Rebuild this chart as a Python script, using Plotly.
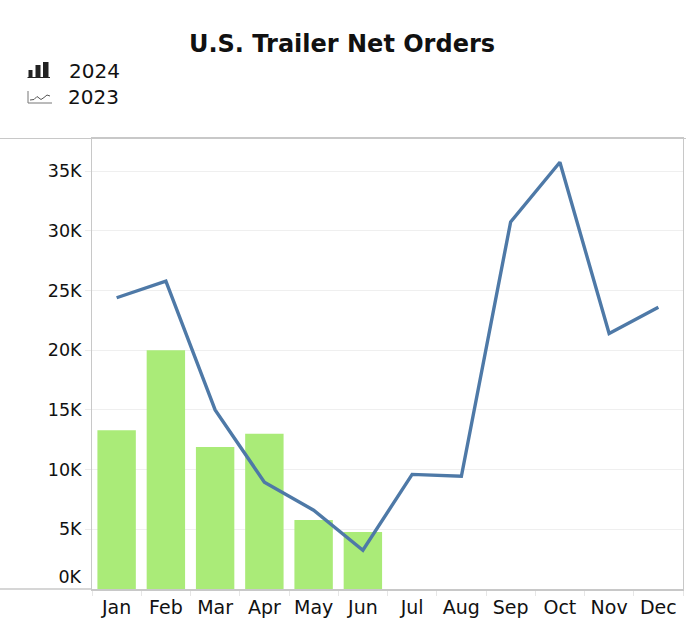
import plotly.graph_objects as go

months = ["Jan", "Feb", "Mar", "Apr", "May", "Jun", "Jul", "Aug", "Sep", "Oct", "Nov", "Dec"]
orders_2024 = [13300, 20000, 11900, 13000, 5780, 4770]
orders_2023 = [24400, 25800, 15000, 8950, 6600, 3250, 9600, 9450, 30750, 35750, 21400, 23600]
y_ticks = [5000, 10000, 15000, 20000, 25000, 30000, 35000]
y_tick_labels = ["5K", "10K", "15K", "20K", "25K", "30K", "35K"]
y_zero_tick = [0]
y_zero_label = ["0K"]

W, H = 686, 624
L, T = 92, 139
R = W - 683
B = H - 589
PW, PH = W - L - R, H - T - B

def px(x):
    return (x - L) / PW

def py(y):
    return (H - B - y) / PH

FRAME = "#c8c8c8"
FONT = "DejaVu Sans"
Y_RANGE = [0, 37700]

fig = go.Figure()
fig.add_trace(go.Bar(x=months[:len(orders_2024)], y=orders_2024, name="2024",
                     marker=dict(color="#aaeb78", line=dict(width=0))))
fig.add_trace(go.Scatter(x=months, y=orders_2023, name="2023", mode="lines", yaxis="y2",
                         line=dict(color="#4e79a7", width=3.4)))

shapes = []
shapes.append(dict(type="line", xref="paper", yref="paper", x0=px(0), x1=px(W), y0=py(138.5), y1=py(138.5),
                   line=dict(color=FRAME, width=1)))
shapes.append(dict(type="line", xref="paper", yref="paper", x0=px(0), x1=px(L), y0=py(589), y1=py(589),
                   line=dict(color=FRAME, width=1.5)))
IC = "#222222"
for x0, x1, top in [(28.5, 32.5, 70), (35.5, 40.5, 65), (43, 48.5, 62)]:
    shapes.append(dict(type="rect", xref="paper", yref="paper", x0=px(x0), x1=px(x1), y0=py(77), y1=py(top),
                       fillcolor=IC, line=dict(width=0)))
shapes.append(dict(type="line", xref="paper", yref="paper", x0=px(27.5), x1=px(50), y0=py(77.5), y1=py(77.5),
                   line=dict(color=IC, width=1)))
shapes.append(dict(type="path", xref="paper", yref="paper",
                   path="M {} {} L {} {} L {} {}".format(px(28), py(91), px(28), py(103), px(52), py(103)),
                   line=dict(color="#777777", width=1)))
pts = [(30, 100), (34, 99.5), (37, 96.5), (41, 99.5), (44, 97.5), (47, 95), (50, 96)]
path = "M " + " L ".join("{} {}".format(px(a), py(b)) for a, b in pts)
shapes.append(dict(type="path", xref="paper", yref="paper", path=path, line=dict(color="#555555", width=1)))

annotations = [
    dict(text="2024", xref="paper", yref="paper", x=px(67), y=py(71), xanchor="left", yanchor="middle",
         showarrow=False, font=dict(family=FONT, size=20, color="#111111")),
    dict(text="2023", xref="paper", yref="paper", x=px(66), y=py(97), xanchor="left", yanchor="middle",
         showarrow=False, font=dict(family=FONT, size=20, color="#111111")),
]

fig.update_layout(
    width=W, height=H,
    margin=dict(l=L, r=R, t=T, b=B),
    paper_bgcolor="white", plot_bgcolor="white",
    showlegend=False,
    bargap=0.22,
    title=dict(text="U.S. Trailer Net Orders", x=342 / W, xref="container", xanchor="center",
               y=1 - 44 / H, yref="container", yanchor="middle",
               font=dict(family=FONT, size=24, color="#111111", weight="bold")),
    shapes=shapes,
    annotations=annotations,
    xaxis=dict(
        categoryorder="array", categoryarray=months,
        range=[-0.5, len(months) - 0.5],
        showline=True, linecolor=FRAME, linewidth=1.5, mirror=True,
        ticks="outside", tickson="boundaries", ticklen=5, tickcolor="#e6e6e6", tickwidth=1,
        showgrid=False,
        tickfont=dict(family=FONT, size=19, color="#111111"),
    ),
    yaxis=dict(
        range=Y_RANGE,
        tickvals=y_ticks, ticktext=y_tick_labels,
        showline=True, linecolor=FRAME, linewidth=1, mirror=True,
        ticks="outside", ticklen=6, tickcolor="#ebebeb",
        showgrid=True, gridcolor="#efefef", gridwidth=1,
        zeroline=False,
        tickfont=dict(family=FONT, size=17.5, color="#111111"),
    ),
    yaxis2=dict(
        overlaying="y", side="left", matches="y",
        tickvals=y_zero_tick, ticktext=y_zero_label,
        ticks="", ticklabelshift=-12, ticklabelstandoff=10,
        showgrid=False, showline=False, zeroline=False,
        tickfont=dict(family=FONT, size=17.5, color="#111111"),
    ),
)

fig.write_html("out.html",
               config={"displayModeBar": False},
               post_script="document.body.style.margin='0';document.body.style.overflow='hidden';")
